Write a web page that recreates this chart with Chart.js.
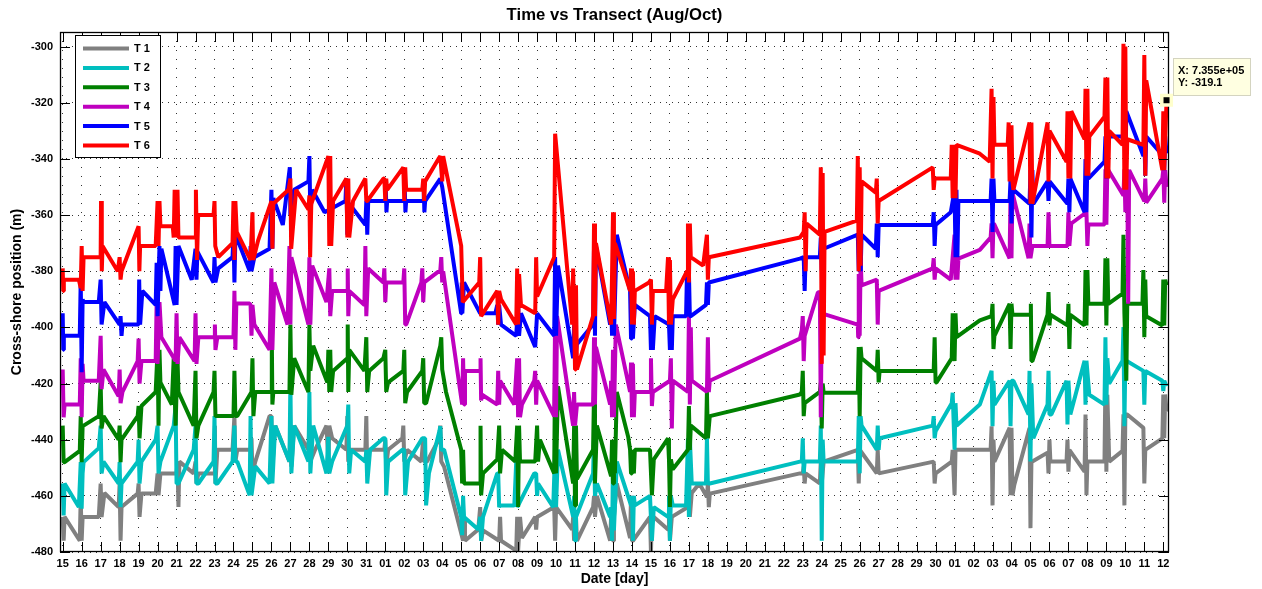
<!DOCTYPE html>
<html>
<head>
<meta charset="utf-8">
<title>Time vs Transect (Aug/Oct)</title>
<script src="https://cdn.jsdelivr.net/npm/chart.js@4.4.1/dist/chart.umd.min.js"></script>
<style>
  html, body { margin: 0; padding: 0; background: #ffffff; }
  canvas { display: block; }
</style>
</head>
<body>
<canvas id="chart" width="1262" height="589"></canvas>
<script>
// ---- Text ----
const chartTitle = 'Time vs Transect (Aug/Oct)';
const xAxisTitle = 'Date [day]';
const yAxisTitle = 'Cross-shore position (m)';
const seriesNames = ['T 1', 'T 2', 'T 3', 'T 4', 'T 5', 'T 6'];
const seriesColors = ['#808080', '#00bfbf', '#008000', '#bf00bf', '#0000ff', '#ff0000'];

// ---- Axes: day index 0 = 15 Aug ----
const dayTickValues = [0,1,2,3,4,5,6,7,8,9,10,11,12,13,14,15,16,17,18,19,20,21,22,23,24,25,26,27,28,29,
  30,31,32,33,34,35,36,37,38,39,40,41,42,43,44,45,46,47,48,49,50,51,52,53,54,55,56,57,58];
const dayTickLabels = ['15','16','17','18','19','20','21','22','23','24','25','26','27','28','29','30','31',
  '01','02','03','04','05','06','07','08','09','10','11','12','13','14','15','16','17','18','19','20',
  '21','22','23','24','25','26','27','28','29','30',
  '01','02','03','04','05','06','07','08','09','10','11','12'];
const yTickValues = [-300, -320, -340, -360, -380, -400, -420, -440, -460, -480];

// ---- Data tip ----
const tipX = 58.17;
const tipY = -319.1;
const tipXText = '7.355e+05';

// ---- Series: [day, cross-shore position (m)] ----
const seriesT1 = [[0,-467.5],[0.05,-476],[0.1,-467.5],[0.9,-476],[0.95,-460.4],[1.0,-476],[1.05,-467.5],[1.9,-467.5],
  [2.0,-455.6],[2.05,-467.5],[2.2,-459],[2.95,-464],[3.0,-455.6],[3.05,-476],[3.1,-464],[3.95,-459.2],[4.0,-455.6],
  [4.05,-467.5],[4.15,-459.2],[4.9,-459.2],[5.0,-452],[5.05,-459.8],[5.15,-452],[6.0,-452],[6.05,-447.8],[6.1,-464],
  [6.15,-447.8],[6.9,-452],[7.0,-447.8],[7.05,-455.6],[7.15,-452],[8.0,-452],[8.02,-435],[8.05,-455.6],[8.15,-443.6],
  [8.95,-443.6],[9.05,-431.6],[9.1,-447.8],[9.2,-443.6],[9.9,-443.6],[9.95,-439.5],[10.0,-452],[10.15,-447.8],
  [10.9,-431.6],[11.0,-431.6],[11.05,-449.6],[11.2,-435],[11.95,-447.8],[12.0,-435],[12.05,-449.6],[12.2,-435],
  [12.95,-443.6],[13.0,-435],[13.05,-447.8],[13.3,-443.6],[13.9,-435],[14.0,-447.8],[14.05,-435],[14.2,-439.5],
  [14.95,-443.6],[15.0,-431.6],[15.05,-447.8],[15.15,-443.6],[15.95,-443.6],[16.0,-431.6],[16.05,-452],[16.15,-443.6],
  [16.95,-443.6],[17.0,-440],[17.05,-449.6],[17.15,-443.6],[17.9,-439.5],[17.95,-435],[18.0,-447.8],[18.15,-443.6],
  [18.9,-447.8],[19.0,-439.5],[19.05,-447.8],[19.2,-447.8],[19.85,-439.5],[19.9,-435],[19.95,-447.8],[20.1,-449.6],
  [21.1,-476],[21.15,-467.5],[21.2,-476],[21.9,-472],[22.0,-464],[22.05,-476],[22.15,-472.3],[23.0,-476],
  [23.05,-467.5],[23.1,-476],[23.9,-479.5],[23.95,-467.5],[24.0,-479.5],[24.1,-467.5],[24.2,-475],[24.9,-467.5],
  [24.95,-472],[25.0,-467.5],[25.9,-464],[25.95,-476],[26.0,-464],[26.85,-472],[26.9,-467.5],[26.95,-476],
  [27.05,-467.5],[27.1,-476],[27.95,-464],[28.0,-460],[28.05,-467.5],[28.15,-460],[28.85,-476],[28.9,-467.5],
  [29.0,-476],[29.05,-467.5],[29.2,-455.6],[29.9,-475],[29.95,-460],[30.0,-476],[30.05,-476],[30.95,-467.5],
  [31.0,-480],[31.05,-467.5],[31.15,-467.5],[31.9,-472],[31.95,-463.4],[32.0,-476],[32.1,-467.5],[32.95,-464],
  [33.0,-452],[33.05,-467.5],[33.15,-459],[33.55,-455.6],[33.95,-460.4],[34.0,-455.6],[34.05,-464],[34.1,-459.2],
  [38.85,-452],[39.0,-452],[39.05,-449.6],[39.1,-455.6],[39.15,-452],[39.9,-455.6],[39.95,-447.8],[40.0,-455.6],
  [40.1,-447.8],[41.9,-443.6],[41.95,-455.6],[42.0,-443.6],[42.9,-452],[42.95,-443.6],[43.0,-452],[45.9,-447.8],
  [45.95,-455.6],[46.0,-452],[46.85,-447.8],[46.9,-443.6],[47.0,-459.8],[47.05,-443.6],[47.1,-443.6],[48.33,-443.6],
  [48.9,-443.6],[48.95,-435.2],[49.0,-463.4],[49.05,-440],[49.1,-447.8],[49.9,-435.8],[49.95,-459.8],[50.0,-435.8],
  [50.05,-459.8],[50.15,-456],[50.95,-435.8],[51.0,-471.5],[51.05,-447.8],[51.1,-447.8],[51.9,-444.6],[51.95,-452],
  [52.0,-440],[52.05,-447.8],[52.9,-447.8],[52.95,-440],[53.0,-451.4],[53.05,-443.6],[53.85,-451.4],[53.9,-431],
  [53.95,-459.8],[54.0,-447.8],[54.9,-447.8],[54.95,-419],[55.0,-451.4],[55.05,-424],[55.15,-447.8],[55.85,-444],
  [55.9,-431],[55.95,-463.4],[56.0,-431],[56.1,-431],[56.95,-435.8],[57.0,-455.6],[57.05,-443.6],[57.95,-439.5],
  [58.0,-423.9],[58.05,-439.5],[58.1,-423.9],[58.17,-430]];

const seriesT2 = [[0,-455.6],[0.05,-467],[0.1,-455.6],[0.85,-464],[0.95,-448],[1.0,-464.6],[1.05,-452],[1.1,-448],
  [1.9,-443],[2.0,-435],[2.05,-452],[2.15,-447.8],[2.95,-455.6],[3.0,-448],[3.05,-464],[3.1,-455.6],[3.95,-447.8],
  [4.0,-440],[4.05,-455.6],[4.15,-447.8],[4.9,-440],[5.0,-435],[5.05,-452],[5.15,-447.8],[5.85,-435],[5.95,-428],
  [6.0,-455.6],[6.1,-455.6],[6.9,-443.6],[7.0,-435],[7.05,-455.6],[7.15,-455.6],[7.95,-447.8],[8.0,-431.6],
  [8.05,-455.6],[8.15,-455.6],[8.95,-447.8],[9.05,-435],[9.1,-447.8],[9.2,-447.8],[9.85,-459.8],[9.9,-431.6],
  [9.95,-459.8],[10.15,-449.5],[10.9,-455.6],[11.0,-431.6],[11.05,-455.6],[11.2,-435],[11.95,-447.8],[12.0,-419],
  [12.05,-452],[12.2,-435],[12.95,-447.8],[13.0,-423],[13.05,-452],[13.2,-435],[13.9,-452],[14.0,-439],[14.05,-452],
  [14.2,-447.8],[15.0,-435],[15.05,-427.5],[15.1,-452],[15.2,-443.6],[15.95,-447.8],[16.0,-443.6],[16.05,-455.6],
  [16.2,-443.6],[16.9,-439.5],[17.0,-439.5],[17.05,-459.8],[17.15,-447.8],[17.9,-443.6],[18.0,-443.6],[18.05,-459.8],
  [18.2,-447.8],[18.95,-439.5],[19.1,-439.5],[19.15,-463.4],[19.3,-452],[19.85,-437],[19.9,-435.2],[19.95,-443.6],
  [20.1,-443.6],[21.0,-467.5],[21.05,-474],[21.1,-460],[21.15,-467.5],[21.9,-472],[22.0,-467.5],[22.05,-476],
  [22.15,-467.5],[22.9,-452],[22.95,-452],[23.0,-464],[23.05,-463.4],[23.8,-463.4],[23.9,-447.8],[23.95,-464],
  [24.05,-462.8],[24.85,-452],[24.95,-452],[25.0,-460],[25.05,-455.6],[25.85,-464],[25.95,-443.6],[26.0,-464],
  [26.1,-443.6],[26.9,-467.5],[26.95,-460],[27.0,-476],[27.05,-467.5],[27.95,-452],[28.0,-439.5],[28.05,-460],
  [28.15,-455.6],[28.85,-467.5],[28.9,-464],[28.95,-476],[29.0,-447.8],[29.05,-472.3],[29.2,-447.8],[29.95,-463.4],
  [30.0,-460],[30.05,-476],[30.1,-460],[30.15,-463.4],[30.95,-460],[31.0,-460],[31.05,-476],[31.15,-464],
  [31.9,-467.5],[31.95,-460],[32.0,-476],[32.05,-460],[32.15,-463.4],[32.85,-463.4],[32.95,-439.5],[33.0,-467.5],
  [33.05,-439.5],[33.15,-455.6],[33.9,-455.6],[33.95,-439.5],[34.0,-455.6],[34.1,-455.6],[38.85,-447.8],
  [38.95,-447.8],[39.0,-439.5],[39.05,-452],[39.1,-447.8],[39.9,-447.8],[39.95,-435],[40.0,-476],[40.05,-440],
  [40.1,-447.8],[41.9,-447.8],[41.95,-431.6],[42.0,-452],[42.05,-431.6],[42.1,-435],[42.9,-443.6],[42.95,-435],
  [43.0,-443.6],[43.05,-439.5],[45.85,-435],[45.9,-431.6],[45.95,-439.5],[46.0,-437],[46.85,-427],[46.9,-423.3],
  [47.0,-443.6],[47.05,-427],[47.1,-435],[48.33,-427.5],[48.95,-415.5],[49.0,-435.2],[49.05,-419],[49.1,-427.5],
  [49.9,-419],[49.95,-435.2],[50.0,-419],[50.1,-419],[50.9,-431],[50.95,-415.5],[51.0,-447.8],[51.05,-420],
  [51.15,-439.5],[51.9,-427.5],[51.95,-415.5],[52.0,-431],[52.1,-431],[52.9,-419],[52.95,-434.6],[53.0,-419],
  [53.1,-431],[53.85,-411.9],[53.9,-427.5],[53.95,-411.9],[54.1,-424],[54.9,-427.5],[54.95,-403.5],[55.0,-427.5],
  [55.05,-411],[55.15,-420],[55.85,-411.9],[55.9,-399.9],[55.95,-435.2],[56.0,-411.9],[56.05,-411.9],[56.95,-415.5],
  [57.0,-427.5],[57.05,-415.5],[57.95,-419],[58.0,-422.7],[58.05,-419],[58.17,-421]];

const seriesT3 = [[0,-435],[0.05,-448],[0.1,-448],[0.9,-444],[0.95,-431.6],[1.0,-448],[1.05,-435],[1.1,-435],
  [1.9,-431.6],[2.0,-419.6],[2.05,-436],[2.15,-431.6],[2.95,-440],[3.0,-435],[3.05,-448],[3.1,-440],[3.95,-431.6],
  [4.0,-428],[4.05,-439.5],[4.15,-428],[4.9,-423],[5.0,-408],[5.05,-435],[5.1,-408],[5.15,-419.6],[5.75,-427.5],
  [5.85,-411],[5.95,-435],[6.05,-411],[6.1,-423],[6.9,-435],[7.0,-415.5],[7.05,-439.5],[7.15,-435],[7.95,-423],
  [8.0,-415.5],[8.05,-431.6],[8.15,-431.6],[9.0,-431.6],[9.05,-415.5],[9.1,-431.6],[9.2,-431.6],[9.95,-423],
  [10.0,-411],[10.05,-431.6],[10.15,-423],[11.0,-423],[11.02,-403.5],[11.05,-427.5],[11.1,-423],[11.95,-423],
  [12.0,-399],[12.05,-424],[12.2,-411],[12.95,-423],[13.0,-399],[13.05,-415.5],[13.2,-406.5],[13.95,-419.6],
  [14.0,-408],[14.05,-423],[14.1,-408],[14.15,-423],[14.25,-415.5],[15.0,-411],[15.02,-399],[15.05,-423],
  [15.1,-408],[15.9,-415.5],[16.0,-403.5],[16.05,-423],[16.15,-415.5],[16.9,-411],[17.0,-408],[17.05,-423],
  [17.15,-419.6],[17.95,-415.5],[18.0,-408],[18.05,-427],[18.15,-423],[18.95,-415.5],[19.0,-411],[19.05,-427],
  [19.15,-427],[19.9,-406.5],[19.95,-403.5],[20.0,-415],[20.2,-423],[21.0,-443.6],[21.05,-455.6],[21.1,-443.6],
  [21.15,-455.6],[22.0,-455.6],[22.02,-435],[22.05,-459.8],[22.15,-452],[22.9,-447],[23.0,-435],[23.05,-452],
  [23.15,-443.6],[23.85,-447.8],[23.95,-435],[24.0,-464],[24.05,-435],[24.1,-447.8],[24.9,-447.8],[25.0,-435],
  [25.05,-447.8],[25.15,-440],[25.9,-452],[25.95,-412.5],[26.0,-452],[26.1,-421],[26.9,-455.6],[26.95,-435],
  [27.0,-463.4],[27.05,-435],[27.1,-454],[27.95,-443.6],[28.0,-423],[28.05,-455.6],[28.15,-435],[28.9,-453],
  [28.95,-440],[29.0,-455.6],[29.05,-440],[29.1,-452],[29.2,-423],[29.8,-439],[29.9,-443.6],[29.95,-452],
  [30.0,-443.6],[30.1,-452],[30.15,-443.6],[30.95,-443.6],[31.0,-443.6],[31.05,-459.8],[31.15,-447],[31.9,-439.5],
  [31.95,-447],[32.0,-464],[32.05,-447],[32.15,-450.5],[32.95,-443.6],[33.0,-428],[33.05,-443.6],[33.1,-435],
  [33.9,-439.5],[33.95,-423],[34.0,-439.5],[34.1,-431.6],[38.85,-423.9],[38.95,-423],[39.0,-415.5],[39.05,-431.6],
  [39.1,-427],[39.9,-423],[39.95,-419.7],[40.0,-436],[40.05,-420],[40.1,-423.3],[41.9,-423.3],[41.95,-407],
  [42.0,-431.6],[42.05,-407],[42.1,-411],[42.9,-415.5],[42.95,-408],[43.0,-419.6],[43.05,-415.5],[45.9,-415.5],
  [45.95,-403.5],[46.0,-419.6],[46.05,-419.6],[46.85,-411],[46.9,-395],[47.0,-412],[47.05,-395],[47.1,-403.5],
  [48.33,-397.5],[48.95,-396],[49.0,-391.6],[49.05,-407.7],[49.1,-403],[49.9,-391.6],[49.95,-407.7],[50.0,-391.6],
  [50.05,-395.5],[51.0,-395.5],[51.02,-391.6],[51.05,-412],[51.1,-412],[51.9,-395.5],[51.95,-387.4],[52.0,-399.3],
  [52.05,-395.5],[52.95,-399.3],[53.0,-391.6],[53.05,-407.7],[53.1,-395.5],[53.85,-399.3],[53.9,-379.6],
  [53.95,-399.3],[54.0,-379.6],[54.05,-391.6],[54.9,-391.6],[54.95,-375.4],[55.0,-399.3],[55.05,-375.4],
  [55.1,-391.6],[55.85,-388],[55.9,-367],[55.95,-395],[56.05,-419],[56.1,-391.6],[56.9,-391.6],[56.95,-379.6],
  [57.0,-403.5],[57.05,-383],[57.1,-396],[57.95,-399.3],[58.0,-383],[58.05,-399.3],[58.1,-383],[58.17,-385]];

const seriesT4 = [[0,-415],[0.05,-432],[0.1,-427.5],[0.9,-427.5],[0.95,-411],[1.0,-432],[1.05,-413],[1.1,-419],
  [1.9,-419],[2.0,-403],[2.05,-422],[2.15,-415],[2.95,-424.5],[3.0,-415],[3.05,-427],[3.15,-423],[3.95,-412],
  [4.0,-404],[4.05,-420],[4.15,-412],[4.9,-412],[4.95,-391],[5.0,-413],[5.1,-391],[5.2,-403.5],[5.95,-412],
  [6.0,-395],[6.05,-413],[6.15,-403.5],[6.95,-412],[7.0,-395],[7.05,-413],[7.15,-403.5],[8.0,-403.5],[8.02,-399],
  [8.05,-408],[8.15,-403.5],[9.0,-403.5],[9.05,-387],[9.1,-408],[9.15,-391.5],[9.85,-391.5],[9.9,-392],
  [9.95,-403],[10.0,-392],[10.1,-399],[10.9,-408],[11.0,-379],[11.05,-408],[11.15,-384],[11.85,-399],[11.95,-371],
  [12.0,-399],[12.05,-375],[12.95,-399],[13.0,-375],[13.05,-399],[13.15,-378],[13.9,-391],[14.05,-379],[14.1,-396],
  [14.2,-387],[15.0,-387],[15.02,-379],[15.05,-396],[15.1,-387],[15.9,-392],[15.95,-371],[16.0,-396],[16.1,-379],
  [16.9,-384],[16.95,-379],[17.0,-391],[17.05,-384],[17.95,-384],[18.0,-379],[18.05,-399],[18.1,-399],[18.9,-384],
  [18.95,-379],[19.0,-391],[19.05,-384],[19.9,-379.6],[19.95,-375],[20.0,-384],[20.05,-380],[21.05,-427.5],
  [21.1,-411],[21.15,-427.5],[21.2,-415.5],[22.0,-415.5],[22.02,-411],[22.05,-426],[22.1,-424],[22.9,-427.5],
  [22.95,-415.5],[23.0,-427.5],[23.05,-419],[23.8,-427.5],[23.95,-411],[24.0,-432],[24.05,-411],[24.1,-432],
  [24.2,-427.5],[24.85,-419],[24.9,-415.5],[24.95,-427.5],[25.0,-419],[25.9,-431.6],[25.95,-396],[26.0,-432],
  [26.05,-396],[26.1,-396],[26.9,-435],[26.95,-423],[27.0,-435],[27.1,-427.5],[27.95,-427.5],[28.0,-403.5],
  [28.05,-427.5],[28.1,-407],[28.85,-427.5],[28.9,-419],[28.95,-432],[29.0,-408],[29.05,-432],[29.15,-399],
  [29.9,-423],[29.95,-412.5],[30.0,-432],[30.05,-413],[30.1,-432],[30.15,-423],[30.95,-423],[31.0,-411],
  [31.05,-428],[31.1,-423],[32.0,-419],[32.05,-411],[32.1,-436],[32.15,-419],[32.95,-423],[33.0,-396],
  [33.05,-427.5],[33.1,-400],[33.15,-419],[33.95,-423],[34.0,-403.5],[34.05,-423],[34.1,-419],[38.85,-404],
  [38.95,-401],[39.0,-396],[39.05,-412],[39.1,-403],[39.8,-387.5],[39.9,-387.5],[39.95,-432],[40.0,-395],
  [41.9,-399],[41.92,-403.5],[41.95,-381],[42.0,-403],[42.05,-375.4],[42.1,-385],[42.9,-383],[42.95,-399],
  [43.0,-387],[45.85,-379],[45.9,-375.4],[45.95,-383],[46.0,-379],[46.8,-383],[47.0,-367],[47.05,-383],[47.1,-367],
  [47.15,-383],[47.2,-375.5],[48.33,-372.4],[48.9,-368],[48.95,-363],[49.0,-375.4],[49.05,-363],[49.1,-363.4],
  [49.9,-375.4],[49.95,-352],[50.0,-375.4],[50.05,-352],[50.9,-375.4],[50.95,-363],[51.0,-375.4],[51.1,-371],
  [51.9,-371],[51.95,-359],[52.0,-371],[52.95,-371],[53.0,-359],[53.05,-371],[53.15,-363],[53.95,-359],[54.0,-371],
  [54.05,-363.4],[54.9,-363.4],[54.95,-343.7],[55.0,-363.4],[55.05,-343.7],[55.1,-344],[55.9,-353],[55.95,-343.7],
  [56.0,-359],[56.1,-343.7],[56.15,-391.6],[56.2,-344],[57.0,-355],[57.05,-347],[57.1,-355.6],[57.95,-347],
  [58.0,-343.7],[58.05,-355.6],[58.1,-344],[58.17,-350]];

const seriesT5 = [[0,-395],[0.03,-408],[0.06,-403],[0.9,-403],[0.95,-383],[1.0,-416],[1.05,-390],[1.1,-391],
  [1.9,-391],[2.0,-383],[2.05,-399],[2.2,-391],[3.0,-399],[3.05,-396],[3.1,-403],[3.15,-399],[4.0,-399],[4.03,-383],
  [4.08,-399],[4.2,-387],[4.9,-392],[4.95,-377],[5.0,-396],[5.1,-371],[5.15,-387],[5.2,-372],[5.9,-392],[5.95,-371],
  [6.0,-392],[6.1,-371],[6.8,-383],[7.0,-372],[7.05,-383],[7.1,-373],[7.95,-384],[8.0,-375],[8.05,-384],[8.2,-379],
  [8.95,-375],[9.0,-367],[9.05,-384],[9.1,-368],[9.17,-368],[9.86,-380],[9.9,-371],[9.95,-380],[10.1,-375],
  [10.9,-372],[11.0,-351],[11.05,-372],[11.1,-354],[11.6,-363.5],[11.97,-343],[12.0,-360],[12.2,-351],[12.95,-348],
  [13.0,-339],[13.05,-360],[13.15,-351],[13.8,-359],[14.9,-355],[14.95,-347],[15.0,-367],[15.1,-356],[15.95,-363.5],
  [16.0,-355],[16.05,-367],[16.1,-355],[17.0,-355],[17.03,-351],[17.06,-359],[17.1,-355],[18.0,-355],[18.03,-351],
  [18.06,-359],[18.1,-355],[19.0,-355],[19.03,-351],[19.06,-359],[19.1,-355],[19.9,-347],[20.0,-350],[21.0,-395],
  [21.03,-384],[21.06,-395],[21.15,-384],[22.0,-395],[22.8,-395],[22.9,-392],[22.95,-399],[23.0,-392],[23.1,-399],
  [23.9,-403],[24.0,-391],[24.05,-403],[24.15,-395],[24.9,-407],[25.0,-395],[25.9,-403],[25.95,-375],[26.0,-403],
  [26.1,-378],[26.9,-411],[26.95,-399],[27.0,-411],[27.1,-406],[27.95,-399],[28.0,-371],[28.05,-403],[28.1,-371],
  [28.85,-399],[28.9,-392],[28.95,-403],[29.0,-392],[29.05,-403],[29.2,-367],[29.9,-387],[29.95,-404],[30.0,-390],
  [30.05,-404],[30.15,-392],[30.95,-396],[31.0,-408],[31.05,-396],[31.1,-408],[31.2,-396],[31.95,-399],[32.0,-408],
  [32.05,-394],[32.1,-408],[32.15,-396],[32.85,-396],[32.9,-380],[32.95,-396],[33.0,-380],[33.05,-396],[33.1,-396],
  [33.9,-392],[33.95,-384],[34.0,-392],[34.05,-384],[38.85,-375.5],[39.05,-375],[39.1,-387],[39.15,-375],
  [39.9,-375],[39.95,-368],[40.0,-380],[40.05,-368],[40.1,-372],[41.9,-367],[41.95,-380],[42.0,-367],[42.05,-380],
  [42.1,-367],[42.85,-372],[42.9,-363],[42.95,-375],[43.0,-363.5],[45.85,-363.5],[45.9,-359],[45.95,-371],
  [46.0,-363.5],[46.8,-359],[47.0,-351],[47.05,-375],[47.1,-351],[47.15,-375],[47.2,-355],[48.9,-355],[48.95,-347],
  [49.0,-366],[49.05,-347],[49.1,-355],[49.9,-355],[49.95,-347],[50.0,-363],[50.05,-347],[50.1,-351],[50.95,-356],
  [51.0,-344],[51.05,-368],[51.1,-344],[51.15,-356],[51.9,-348],[51.95,-355],[52.0,-348],[52.95,-356],[53.0,-347],
  [53.05,-359],[53.1,-347],[53.85,-359],[53.9,-340],[53.95,-359],[54.0,-340],[54.05,-347],[54.9,-341],[54.95,-332],
  [55.0,-347],[55.05,-332],[55.9,-332],[55.95,-323],[56.0,-346],[56.05,-323],[56.95,-339],[57.0,-332],[57.05,-346],
  [57.1,-332],[58.0,-339],[58.05,-344],[58.1,-332],[58.17,-338]];

const seriesT6 = [[0,-379],[0.03,-387],[0.06,-383],[0.85,-383],[0.95,-386],[1.0,-371],[1.05,-387],[1.1,-375],
  [2.0,-375],[2.02,-355],[2.06,-380],[2.1,-371],[2.9,-380],[3.0,-375],[3.05,-383],[3.1,-380],[4.0,-364],[4.04,-380],
  [4.08,-371],[4.9,-371],[5.0,-355],[5.05,-371],[5.1,-355],[5.15,-364],[5.8,-364],[5.85,-368],[5.9,-351],[6.0,-368],
  [6.05,-351],[6.1,-368],[7.0,-368],[7.02,-351],[7.08,-376],[7.14,-360],[7.95,-360],[8.0,-355],[8.04,-371],
  [8.2,-375],[8.95,-370],[9.0,-355],[9.05,-376],[9.1,-355],[9.17,-366],[9.9,-376],[10.0,-359],[10.04,-376],
  [10.3,-369],[11.0,-355],[11.05,-372],[11.1,-356],[11.9,-351],[12.0,-347],[12.04,-372],[12.3,-351],[12.95,-358],
  [13.0,-353],[13.04,-375],[13.1,-356],[14.0,-339],[14.05,-371],[14.1,-339],[14.15,-371],[14.25,-355],[14.95,-347],
  [15.0,-368],[15.05,-347],[15.1,-368],[15.3,-355],[15.95,-347],[16.0,-355],[16.05,-355],[16.9,-347],[16.95,-347],
  [17.0,-355],[17.05,-347],[17.1,-351],[17.95,-343],[18.0,-355],[18.05,-343],[18.1,-351],[18.95,-351],[19.0,-347],
  [19.05,-355],[19.1,-348],[19.8,-340],[19.9,-339],[20.0,-348],[20.05,-339],[21.0,-371],[21.08,-391],[21.95,-384],
  [22.0,-375],[22.05,-396],[22.9,-387],[22.95,-399],[23.0,-387],[23.1,-390],[23.9,-399],[23.95,-379],[24.0,-399],
  [24.05,-381],[24.15,-392],[24.9,-395],[24.95,-375],[25.0,-389],[25.9,-375],[25.95,-331],[26.85,-399],[26.9,-379],
  [27.0,-415],[27.05,-385],[27.1,-415],[27.95,-396],[28.0,-363],[28.05,-396],[28.1,-370],[28.9,-399],[28.95,-381],
  [29.0,-359],[29.05,-397],[29.1,-370],[29.2,-372],[29.9,-387],[29.95,-379],[30.0,-399],[30.05,-380],[30.1,-399],
  [30.15,-387],[30.9,-384],[31.0,-383],[31.05,-399],[31.1,-387],[31.8,-387],[31.9,-375],[31.95,-399],[32.0,-376],
  [32.05,-399],[32.15,-390],[32.9,-380],[32.95,-363],[33.0,-384],[33.05,-363],[33.1,-375],[33.75,-378],[33.95,-367],
  [34.0,-383],[34.05,-375],[38.85,-368],[39.05,-366],[39.1,-359],[39.15,-380],[39.2,-363],[39.9,-367],[39.95,-343],
  [40.0,-413],[40.05,-345],[40.1,-410],[40.15,-366],[41.85,-362],[41.9,-339],[41.95,-380],[42.0,-343],[42.05,-378],
  [42.1,-348],[42.85,-352],[42.9,-347],[42.95,-363],[43.0,-355],[45.85,-343],[45.9,-351],[45.95,-347],[46.8,-347],
  [46.85,-335],[46.9,-354],[47.0,-335],[47.05,-354],[47.1,-335],[48.3,-338],[48.85,-341],[48.95,-315],[49.0,-347],
  [49.05,-318],[49.1,-335],[49.8,-335],[49.85,-327],[49.9,-348],[50.0,-328],[50.05,-348],[50.1,-351],[50.95,-327],
  [51.0,-356],[51.05,-327],[51.1,-356],[51.9,-327],[51.95,-348],[52.0,-330],[52.9,-341],[52.95,-323],[53.0,-347],
  [53.05,-323],[53.1,-347],[53.15,-323],[53.85,-333],[53.9,-315],[53.95,-346],[54.0,-315],[54.05,-346],[54.1,-332],
  [54.9,-325],[54.95,-311],[55.0,-347],[55.05,-311],[55.1,-347],[55.15,-330],[55.85,-335],[55.9,-299],[55.95,-351],
  [56.0,-300],[56.05,-351],[56.1,-333],[56.95,-335],[57.0,-303],[57.05,-346],[57.1,-312],[57.95,-344],[58.0,-323],
  [58.05,-344],[58.17,-319.1]];

const allSeries = [seriesT1, seriesT2, seriesT3, seriesT4, seriesT5, seriesT6];

const FONT = '"Liberation Sans", Arial, Helvetica, sans-serif';

// Title centred over the plot area
const plotTitle = {
  id: 'plotTitle',
  afterDraw(chart) {
    const { ctx, chartArea: a } = chart;
    ctx.save();
    ctx.fillStyle = '#000';
    ctx.font = 'bold 16.7px ' + FONT;
    ctx.textAlign = 'center';
    ctx.textBaseline = 'middle';
    ctx.fillText(chartTitle, (a.left + a.right) / 2, 15.5);
    ctx.restore();
  }
};

// Box around the plot with inward ticks on all four sides
const axesBox = {
  id: 'axesBox',
  afterDatasetsDraw(chart) {
    const { ctx, chartArea: a, scales: { x, y } } = chart;
    const len = 10;
    ctx.save();
    ctx.strokeStyle = '#000';
    ctx.lineWidth = 1;
    ctx.beginPath();
    x.ticks.forEach(t => {
      const px = Math.round(x.getPixelForValue(t.value)) + 0.5;
      ctx.moveTo(px, a.bottom); ctx.lineTo(px, a.bottom - len);
      ctx.moveTo(px, a.top); ctx.lineTo(px, a.top + len);
    });
    y.ticks.forEach(t => {
      const py = Math.round(y.getPixelForValue(t.value)) + 0.5;
      ctx.moveTo(a.left, py); ctx.lineTo(a.left + len, py);
      ctx.moveTo(a.right, py); ctx.lineTo(a.right - len, py);
    });
    ctx.stroke();
    ctx.lineWidth = 1.3;
    ctx.strokeRect(Math.round(a.left) + 0.5, Math.round(a.top) + 0.5,
      Math.round(a.right - a.left) - 1, Math.round(a.bottom - a.top) - 1);
    ctx.restore();
  }
};

// Legend box in the upper-left corner of the plot
const legendBox = {
  id: 'legendBox',
  afterDraw(chart) {
    const { ctx } = chart;
    const sets = chart.data.datasets;
    const bx = 75, by = 35, bw = 85, bh = 122;
    ctx.save();
    ctx.fillStyle = '#fff';
    ctx.fillRect(bx, by, bw, bh);
    ctx.strokeStyle = '#000';
    ctx.lineWidth = 1;
    ctx.strokeRect(bx + 0.5, by + 0.5, bw, bh);
    ctx.font = 'bold 11px ' + FONT;
    ctx.textBaseline = 'middle';
    ctx.textAlign = 'left';
    sets.forEach((ds, i) => {
      const ly = 48.5 + i * 19.4;
      ctx.strokeStyle = ds.borderColor;
      ctx.lineWidth = 4;
      ctx.beginPath();
      ctx.moveTo(83, ly); ctx.lineTo(129, ly);
      ctx.stroke();
      ctx.fillStyle = '#000';
      ctx.fillText(ds.label, 134, ly + 0.5);
    });
    ctx.restore();
  }
};

// Data cursor marker with its value box
const dataTip = {
  id: 'dataTip',
  afterDraw(chart) {
    const { ctx, scales: { x, y } } = chart;
    const px = x.getPixelForValue(tipX);
    const py = y.getPixelForValue(tipY);
    ctx.save();
    ctx.fillStyle = '#ffffcc';
    ctx.fillRect(px - 6.5, py - 6.5, 13, 13);
    ctx.fillStyle = '#000';
    ctx.fillRect(px - 3, py - 3, 6, 6);
    const bx = 1173, by = 58, bw = 77, bh = 37;
    ctx.fillStyle = '#ffffe1';
    ctx.fillRect(bx, by, bw, bh);
    ctx.strokeStyle = '#d4d4c0';
    ctx.lineWidth = 1;
    ctx.strokeRect(bx + 0.5, by + 0.5, bw, bh);
    ctx.fillStyle = '#000';
    ctx.font = 'bold 11px ' + FONT;
    ctx.textBaseline = 'middle';
    ctx.textAlign = 'left';
    ctx.fillText('X: ' + tipXText, bx + 5, by + 12.5);
    ctx.fillText('Y: ' + tipY.toFixed(1), bx + 5, by + 25);
    ctx.restore();
  }
};

new Chart(document.getElementById('chart'), {
  type: 'line',
  data: {
    datasets: allSeries.map((s, i) => ({
      label: seriesNames[i],
      data: s.map(([d, v]) => ({ x: d, y: v })),
      borderColor: seriesColors[i],
      backgroundColor: seriesColors[i],
      borderWidth: 4,
      borderJoinStyle: 'bevel',
      pointRadius: 0,
      pointHoverRadius: 0,
      tension: 0,
      fill: false,
      order: allSeries.length - 1 - i
    }))
  },
  options: {
    responsive: false,
    animation: false,
    devicePixelRatio: 1,
    events: [],
    layout: { padding: { left: 0, right: 93, top: 32, bottom: 0 } },
    plugins: {
      legend: { display: false },
      tooltip: { enabled: false },
      title: { display: false }
    },
    scales: {
      x: {
        type: 'linear',
        min: -0.142,
        max: 58.3,
        afterBuildTicks: s => { s.ticks = dayTickValues.map(v => ({ value: v })); },
        afterFit: s => { s.height = 37; },
        ticks: {
          autoSkip: false,
          maxRotation: 0,
          padding: 5,
          color: '#000',
          font: { family: FONT, size: 11, weight: 'bold' },
          callback: v => dayTickLabels[dayTickValues.indexOf(v)]
        },
        grid: { color: 'rgba(0,0,0,0.8)', lineWidth: 1, drawTicks: false },
        border: { display: false, dash: [1, 8] },
        title: {
          display: true,
          text: xAxisTitle,
          color: '#000',
          font: { family: FONT, size: 14, weight: 'bold' },
          padding: { top: 1, bottom: 1 }
        }
      },
      y: {
        type: 'linear',
        min: -480,
        max: -294.8,
        afterBuildTicks: s => { s.ticks = yTickValues.map(v => ({ value: v })); },
        afterFit: s => { s.width = 60; },
        ticks: {
          padding: 7,
          color: '#000',
          font: { family: FONT, size: 11, weight: 'bold' },
          callback: v => String(v)
        },
        grid: { color: 'rgba(0,0,0,0.8)', lineWidth: 1, drawTicks: false },
        border: { display: false, dash: [1, 5] },
        title: {
          display: true,
          text: yAxisTitle,
          color: '#000',
          font: { family: FONT, size: 14, weight: 'bold' },
          padding: { top: 9, bottom: 0 }
        }
      }
    }
  },
  plugins: [axesBox, legendBox, dataTip, plotTitle]
});
</script>
</body>
</html>
